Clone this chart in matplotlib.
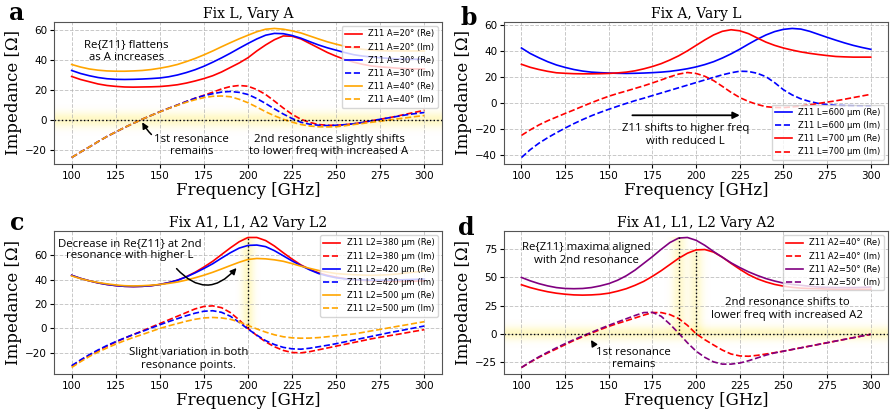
import numpy as np
import matplotlib
matplotlib.use("Agg")
import matplotlib.pyplot as plt

# ---------------- data ----------------
freq = list(range(100, 301, 5))

# Panel a: Fix L, vary A
a_re_20 = [29, 27, 25.5, 24, 23, 22.4, 22, 21.9, 22, 22.1, 22.3, 22.8, 23.5, 24.6, 26, 27.6, 29.5, 32, 35, 38, 41.5,
           46, 50, 53.5, 56, 55.8, 54, 51, 48, 45, 42.5, 40.3, 38.5, 37.1, 36, 35.4, 35, 34.5, 34.2, 34, 34]
a_im_20 = [-25, -21.4, -18, -14.4, -11, -8, -5, -2.2, 0.5, 3, 5.5, 7.8, 10, 12.3, 14.5, 16.5, 18.5, 20.7, 22.3, 23, 22.5,
           20.3, 17, 12.6, 8, 3.8, 0.5, -1.6, -3, -3.5, -3.5, -3.1, -2.5, -1.6, -0.5, 0.5, 1.5, 2.7, 4, 5.2, 6.5]
a_re_30 = [33, 31, 29.5, 28.3, 27.5, 27.1, 27, 27.1, 27.3, 27.6, 28, 28.8, 30, 31.6, 33.5, 35.8, 38.5, 41.4, 44.5, 47.8, 51,
           54, 56.5, 57.7, 57.5, 56.3, 54.5, 52.2, 50, 48.1, 46.5, 44.9, 43.5, 42.6, 42, 41.5, 41, 40.7, 40.5, 40.5, 40.5]
a_im_30 = [-25, -21.4, -18, -14.4, -11, -8, -5, -2.2, 0.5, 3, 5.5, 7.8, 10, 12.3, 14.5, 16.2, 17.5, 18.6, 19, 18.4, 17,
           14.3, 11, 7.4, 4, 1, -1.5, -2.8, -3.5, -3.7, -3.5, -3.1, -2.5, -1.6, -0.5, 0.5, 1.5, 2.5, 3.5, 4.3, 5]
a_re_40 = [37, 35.3, 34, 33.2, 32.7, 32.5, 32.5, 32.7, 33, 33.6, 34.5, 35.6, 37, 38.9, 41, 43.4, 46, 48.8, 51.5, 54.1, 56.5,
           58.8, 60.5, 61, 60.5, 59.4, 58, 56, 54, 52.1, 50.5, 49.1, 48, 47.1, 46.5, 46.2, 46, 46, 46, 46, 46]
a_im_40 = [-25, -21.4, -18, -14.4, -11, -8, -5, -2.2, 0.5, 3, 5.4, 7.7, 9.8, 11.8, 13.5, 14.9, 15.8, 16, 15.5, 13.8, 11.5,
           8.6, 5.5, 2.8, 0.5, -1.4, -3, -4, -4.5, -4.6, -4.5, -3.8, -3, -2.3, -1.5, -0.8, 0, 0.8, 1.5, 2.3, 3]

# Panel b: Fix A, vary L
b_re_600 = [42, 37.8, 34.5, 31.5, 29, 27.1, 25.5, 24.3, 23.5, 23.1, 22.8, 22.6, 22.5, 22.6, 22.8, 23.1, 23.5, 24.1, 25, 26.1, 27.5,
            29.3, 31.5, 34.3, 37.5, 41.1, 45, 48.7, 52, 54.6, 56.3, 57, 56.5, 54.8, 52.5, 50.2, 48, 45.9, 44, 42.4, 41]
b_im_600 = [-42, -36, -31, -26.8, -23, -19.4, -16, -12.9, -10, -7.4, -5, -2.7, -0.5, 1.6, 3.5, 5.5, 7.5, 9.5, 11.5, 13.5, 15.5,
            17.5, 19.5, 21.4, 23, 24.2, 24, 22.6, 20, 15.4, 10, 6, 3, 1, -0.5, -1.4, -2, -2.2, -2.3, -2.4, -2.5]
b_re_700 = [29.5, 27.2, 25.5, 24.1, 23, 22.6, 22.3, 22.2, 22.2, 22.3, 22.5, 22.9, 23.5, 24.5, 26, 27.8, 30, 32.8, 36, 39.8, 44,
            48.2, 52, 54.8, 56, 55.2, 53, 49.7, 46.5, 44, 42, 40.4, 39, 37.9, 37, 36.2, 35.5, 35.2, 35, 35, 35]
b_im_700 = [-25, -20.8, -17, -13.8, -11, -8.2, -5.5, -2.7, 0, 2.6, 5, 7.1, 9, 11, 13, 15.2, 17.5, 19.9, 22, 23.2, 22.5,
            20.3, 17, 12.6, 8, 4, 1, -1.3, -3, -3.6, -3.7, -3.2, -2.5, -1.6, -0.5, 0.5, 1.5, 2.7, 4, 5.2, 6.5]

# Panel c: Fix A1, L1, A2, vary L2
c_re_380 = [43.5, 41, 39, 37.3, 36, 35.1, 34.5, 34.3, 34.5, 35, 36, 37.5, 39.5, 42.4, 46, 50.3, 55, 60.5, 66, 71, 74.5,
            74.5, 72, 67.5, 62, 56.8, 52, 48.4, 45.5, 43.5, 42, 40.8, 40, 39.4, 39, 38.7, 38.5, 38.5, 38.5, 38.7, 39]
c_im_380 = [-31, -26.3, -22, -18.1, -14.5, -11.2, -8, -5, -2, 1, 4, 7, 10, 13, 16, 18, 18.5, 17, 13, 7, 0,
            -5.8, -11, -15, -18, -19.7, -20, -19, -17.5, -16, -14.5, -13, -11.5, -10, -8.5, -7.2, -6, -4.8, -3.5, -2.2, -1]
c_re_420 = [43.5, 41, 39, 37.3, 36, 35.1, 34.5, 34.3, 34.5, 35, 36, 37.5, 39.5, 42.2, 45.5, 49.1, 53, 57.6, 62, 65.8, 68,
            68.3, 67, 63.7, 59.5, 55.3, 51.5, 48, 45, 43, 41.5, 40.6, 40, 39.7, 39.5, 39.5, 39.5, 39.7, 40, 40.2, 40.5]
c_im_420 = [-30.5, -25.8, -21.5, -17.6, -14, -10.8, -7.8, -5, -2.5, 0.3, 3, 5.6, 8, 10.4, 12.5, 14.1, 14.5, 13.2, 10, 5, -0.5,
            -5.5, -10, -13.2, -15.5, -16.7, -17, -16.2, -15, -13.8, -12.5, -11, -9.5, -8, -6.5, -5, -3.5, -2.2, -0.8, 0.6, 2]
c_re_500 = [43, 40.8, 39, 37.6, 36.5, 35.6, 35, 34.8, 35, 35.4, 36, 36.9, 38, 39.6, 41.5, 43.6, 46, 48.7, 51.5, 54.2, 56.5,
            57.3, 57, 56.2, 55, 53.1, 51, 49.2, 47.5, 46.1, 45, 44.4, 44, 43.7, 43.5, 43.7, 44, 44.6, 45.5, 46.2, 47]
c_im_500 = [-32, -27.3, -23, -19.3, -16, -12.9, -10, -7.4, -5, -2.5, 0, 2.1, 4, 5.9, 7.5, 8.6, 9, 8.6, 7.5, 5.3, 2.5,
            -0.4, -3, -5.2, -6.8, -7.7, -8, -7.9, -7.5, -6.8, -6, -5.3, -4.5, -3.3, -2, -0.8, 0.5, 1.8, 3, 4.3, 5.5]

# Panel d: Fix A1, L1, L2, vary A2
d_re_40 = [43.5, 41, 39, 37.3, 36, 35.1, 34.5, 34.3, 34.5, 35, 36, 37.8, 40, 43, 46.5, 51, 56, 61.5, 67, 71.5, 74.5,
           74.8, 72.5, 68, 62.5, 57.3, 52.5, 48.8, 46, 43.8, 42.3, 41.2, 40.5, 40.2, 40, 39.7, 39.5, 39.5, 39.5, 39.5, 39.5]
d_im_40 = [-30, -25.3, -21, -17.1, -13.5, -9.7, -6, -2.7, 0.5, 3.6, 6.5, 9.1, 11.5, 14, 16.5, 18.8, 18.8, 17, 13.5, 7.5, 0,
           -5.3, -10, -14.5, -18, -19.7, -20, -19.2, -18, -16.8, -15.5, -14, -12.5, -11, -9.5, -8, -6.5, -5, -3.5, -2, -0.5]
d_re_50 = [50, 47, 44.5, 42.5, 41, 40.2, 40, 40.2, 41, 42.5, 44.5, 47.5, 51.5, 56.5, 62.5, 68.5, 75, 81, 85, 85.5, 83,
           78.5, 73, 68, 63, 58.8, 55, 51.8, 49, 46.8, 45, 43.8, 43, 42.2, 41.5, 41.2, 41, 41, 41, 41.2, 41.5]
d_im_50 = [-30, -25, -20.5, -16.4, -12.5, -8.8, -5.3, -2, 1.2, 4.4, 7.5, 10.4, 13.3, 16.2, 18.8, 19, 15.5, 8.5, 0.5, -8, -15.5,
           -21, -25, -27, -27, -26, -24, -21.5, -19, -17, -15.5, -14, -12.5, -11, -9.5, -8, -6.5, -5, -3.5, -2, -0.5]

# resonance markers
c_res_f, c_res_max = 200, 74.5
d_res_f = [190, 200]
d_res_max = [85.5, 74.8]

# ---------------- styling ----------------
SERIF = "DejaVu Serif"
ANN = "Open Sans"
TICK_FS = 7.5
LEG_FS = 6
ANN_FS = 8.2
LW = 1.2

fig = plt.figure(figsize=(8.9, 4.11), dpi=100)
pos = {
    "a": [0.0607, 0.601, 0.4359, 0.3455],
    "b": [0.5663, 0.601, 0.4317, 0.3455],
    "c": [0.0607, 0.090, 0.4359, 0.348],
    "d": [0.5663, 0.090, 0.4317, 0.348],
}
axes = {k: fig.add_axes(v) for k, v in pos.items()}


def style(ax, title):
    ax.grid(True, linestyle="--", color="#b0b0b0", alpha=0.7, lw=0.7)
    ax.set_axisbelow(True)
    ax.set_title(title, family=SERIF, fontsize=10, pad=3)
    ax.set_xlabel("Frequency [GHz]", family=SERIF, fontsize=12, labelpad=1)
    ax.set_ylabel("Impedance [Ω]", family=SERIF, fontsize=12, labelpad=2)
    ax.tick_params(labelsize=TICK_FS, length=3, pad=2)
    ax.set_xticks([100, 125, 150, 175, 200, 225, 250, 275, 300])
    for s in ax.spines.values():
        s.set_color("#555555")


def hband(ax, y0, sigma, amax=0.35):
    xl, yl = ax.get_xlim(), ax.get_ylim()
    ys = np.linspace(yl[0], yl[1], 300)
    a = amax * np.exp(-((ys - y0) / sigma) ** 2)
    img = np.zeros((len(ys), 1, 4))
    img[..., 0] = 1.0
    img[..., 1] = 0.93
    img[..., 2] = 0.35
    img[:, 0, 3] = a
    ax.imshow(img, extent=[xl[0], xl[1], yl[0], yl[1]], origin="lower",
              aspect="auto", zorder=0.5, interpolation="bilinear")
    ax.set_xlim(xl)
    ax.set_ylim(yl)


def vband(ax, x0, sigma, ylo, yhi, amax=0.35):
    xl, yl = ax.get_xlim(), ax.get_ylim()
    xs = np.linspace(x0 - 3 * sigma, x0 + 3 * sigma, 200)
    a = amax * np.exp(-((xs - x0) / sigma) ** 2)
    img = np.zeros((1, len(xs), 4))
    img[..., 0] = 1.0
    img[..., 1] = 0.93
    img[..., 2] = 0.35
    img[0, :, 3] = a
    ax.imshow(img, extent=[xs[0], xs[-1], ylo, yhi], origin="lower",
              aspect="auto", zorder=0.5, interpolation="bilinear")
    ax.set_xlim(xl)
    ax.set_ylim(yl)


arrow_curve = dict(arrowstyle="-|>", color="black", lw=1.1,
                   shrinkB=0, mutation_scale=9)

# ---------------- panel a ----------------
ax = axes["a"]
ax.plot(freq, a_re_20, color="red", lw=LW, label="Z11 A=20° (Re)")
ax.plot(freq, a_im_20, color="red", lw=LW, ls="--", label="Z11 A=20° (Im)")
ax.plot(freq, a_re_30, color="blue", lw=LW, label="Z11 A=30° (Re)")
ax.plot(freq, a_im_30, color="blue", lw=LW, ls="--", label="Z11 A=30° (Im)")
ax.plot(freq, a_re_40, color="orange", lw=LW, label="Z11 A=40° (Re)")
ax.plot(freq, a_im_40, color="orange", lw=LW, ls="--", label="Z11 A=40° (Im)")
style(ax, "Fix L, Vary A")
hband(ax, 0, 5)
ax.axhline(0, color="black", ls=":", lw=1)
ax.legend(loc="upper right", fontsize=LEG_FS)
ax.text(131, 46, "Re{Z11} flattens\nas A increases", ha="center", va="center",
        family=ANN, fontsize=ANN_FS)
ax.annotate("1st resonance\nremains", xy=(140, -1.5), xytext=(168, -17),
            ha="center", va="center", family=ANN, fontsize=ANN_FS,
            arrowprops=dict(connectionstyle="arc3,rad=-0.35", shrinkA=22, **arrow_curve))
ax.text(246, -17, "2nd resonance slightly shifts\nto lower freq with increased A",
        ha="center", va="center", family=ANN, fontsize=ANN_FS)

# ---------------- panel b ----------------
ax = axes["b"]
ax.plot(freq, b_re_600, color="blue", lw=LW, label="Z11 L=600 µm (Re)")
ax.plot(freq, b_im_600, color="blue", lw=LW, ls="--", label="Z11 L=600 µm (Im)")
ax.plot(freq, b_re_700, color="red", lw=LW, label="Z11 L=700 µm (Re)")
ax.plot(freq, b_im_700, color="red", lw=LW, ls="--", label="Z11 L=700 µm (Im)")
style(ax, "Fix A, Vary L")
ax.legend(loc="lower right", fontsize=LEG_FS)
ax.annotate("", xy=(225, -9.6), xytext=(163.5, -9.6),
            arrowprops=dict(arrowstyle="-|>", color="black", lw=1.3,
                            shrinkA=0, shrinkB=0, mutation_scale=10))
ax.text(194, -24.5, "Z11 shifts to higher freq\nwith reduced L", ha="center",
        va="center", family=ANN, fontsize=ANN_FS)

# ---------------- panel c ----------------
ax = axes["c"]
ax.plot(freq, c_re_380, color="red", lw=LW, label="Z11 L2=380 µm (Re)")
ax.plot(freq, c_im_380, color="red", lw=LW, ls="--", label="Z11 L2=380 µm (Im)")
ax.plot(freq, c_re_420, color="blue", lw=LW, label="Z11 L2=420 µm (Re)")
ax.plot(freq, c_im_420, color="blue", lw=LW, ls="--", label="Z11 L2=420 µm (Im)")
ax.plot(freq, c_re_500, color="orange", lw=LW, label="Z11 L2=500 µm (Re)")
ax.plot(freq, c_im_500, color="orange", lw=LW, ls="--", label="Z11 L2=500 µm (Im)")
style(ax, "Fix A1, L1, A2 Vary L2")
vband(ax, c_res_f, 3.5, 0, c_res_max)
ax.plot([c_res_f, c_res_f], [0, c_res_max], color="black", ls=":", lw=1)
ax.legend(loc="upper right", fontsize=LEG_FS)
ax.text(133, 64.5, "Decrease in Re{Z11} at 2nd\nresonance with higher L",
        ha="center", va="center", family=ANN, fontsize=ANN_FS)
ax.annotate("", xy=(193.5, 49.5), xytext=(159.5, 49),
            arrowprops=dict(connectionstyle="arc3,rad=0.55", shrinkA=0, **arrow_curve))
ax.text(166.5, -25, "Slight variation in both\nresonance points.",
        ha="center", va="center", family=ANN, fontsize=ANN_FS)

# ---------------- panel d ----------------
ax = axes["d"]
ax.plot(freq, d_re_40, color="red", lw=LW, label="Z11 A2=40° (Re)")
ax.plot(freq, d_im_40, color="red", lw=LW, ls="--", label="Z11 A2=40° (Im)")
ax.plot(freq, d_re_50, color="purple", lw=LW, label="Z11 A2=50° (Re)")
ax.plot(freq, d_im_50, color="purple", lw=LW, ls="--", label="Z11 A2=50° (Im)")
style(ax, "Fix A1, L1, L2 Vary A2")
hband(ax, 0, 6)
for f0, m0 in zip(d_res_f, d_res_max):
    vband(ax, f0, 4, 0, m0, amax=0.3)
    ax.plot([f0, f0], [0, m0], color="black", ls=":", lw=1)
ax.axhline(0, color="black", ls=":", lw=1)
ax.legend(loc="upper right", fontsize=LEG_FS)
ax.text(137, 71, "Re{Z11} maxima aligned\nwith 2nd resonance", ha="center",
        va="center", family=ANN, fontsize=ANN_FS)
ax.text(252, 22, "2nd resonance shifts to\nlower freq with increased A2",
        ha="center", va="center", family=ANN, fontsize=ANN_FS)
ax.annotate("1st resonance\nremains", xy=(139.8, -5.5), xytext=(164, -22),
            ha="center", va="center", family=ANN, fontsize=ANN_FS,
            arrowprops=dict(connectionstyle="arc3,rad=-0.35", shrinkA=22, **arrow_curve))

# panel letters
for letter, x, y in [("a", 0.010, 0.951), ("b", 0.517, 0.939),
                     ("c", 0.011, 0.440), ("d", 0.515, 0.428)]:
    fig.text(x, y, letter, family=SERIF, fontsize=17, fontweight="bold",
             va="baseline", ha="left")

fig.savefig("out.png", dpi=100)
